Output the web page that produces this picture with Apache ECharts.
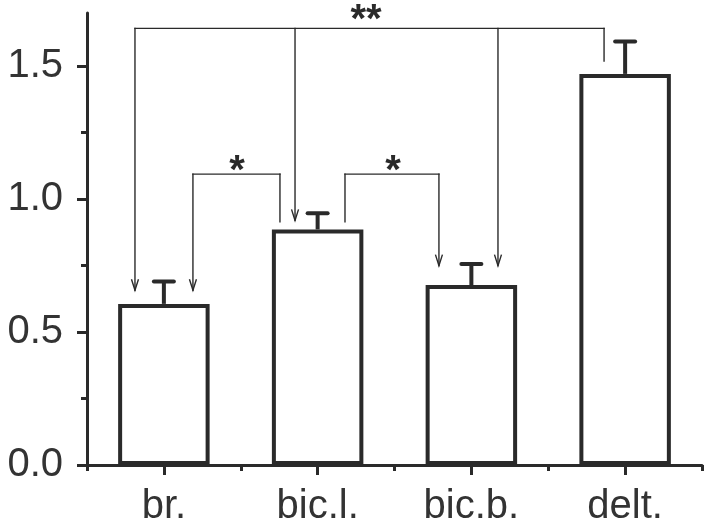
<!DOCTYPE html>
<html>
<head>
<meta charset="utf-8">
<script src="https://cdn.jsdelivr.net/npm/echarts@6/dist/echarts.min.js"></script>
<style>
  html, body { margin: 0; padding: 0; background: #fff; }
  #chart { width: 708px; height: 524px; }
</style>
</head>
<body>
<div id="chart"></div>
<script>
// ---- data ----
const categories = ['br.', 'bic.l.', 'bic.b.', 'delt.'];
const means = [0.606, 0.886, 0.677, 1.471];
const errors = [0.084, 0.061, 0.079, 0.122];
const yTickValues = [0, 0.5, 1.0, 1.5];
const yMinorTickValues = [0.25, 0.75, 1.25];
const xBoundaryTickValues = [-0.5, 0.5, 1.5, 2.5, 3.5];
// significance brackets: [x1, y1, x2, y2, arrowAtEnd], x in category units, y in data units
const bracketSegments = [
  [-0.188, 1.642, 2.863, 1.642, 0],
  [-0.188, 1.642, -0.188, 0.657, 1],
  [0.853, 1.642, 0.853, 0.920, 1],
  [2.173, 1.642, 2.173, 0.750, 1],
  [2.863, 1.642, 2.863, 1.519, 0],
  [0.189, 1.094, 0.755, 1.094, 0],
  [0.189, 1.094, 0.189, 0.657, 1],
  [0.755, 1.094, 0.755, 0.915, 0],
  [1.178, 1.094, 1.789, 1.094, 0],
  [1.178, 1.094, 1.178, 0.915, 0],
  [1.789, 1.094, 1.789, 0.750, 1]
];
const starLabels = ['**', '*', '*'];
const starPositions = [[1.315, 1.669], [0.476, 1.101], [1.490, 1.101]];

const INK = '#2a2a2a';
const FONT = 'Liberation Sans, Arial, sans-serif';

const chart = echarts.init(document.getElementById('chart'), null, { renderer: 'canvas' });

const option = {
  animation: false,
  backgroundColor: '#fff',
  grid: { left: 87, right: 6, top: 13, bottom: 59, containLabel: false, outerBoundsMode: 'none' },
  xAxis: [
    {
      type: 'category', data: categories, position: 'bottom',
      axisLine: { show: true, onZero: false, lineStyle: { color: INK, width: 3 } },
      axisTick: { show: true, alignWithLabel: true, length: 10, interval: 0, lineStyle: { color: INK, width: 3 } },
      axisLabel: { interval: 0, fontSize: 40, fontFamily: FONT, color: '#333', margin: 22 },
      splitLine: { show: false }
    },
    {
      type: 'value', min: -0.5, max: 3.5, position: 'bottom',
      axisLine: { show: false, onZero: false },
      axisTick: { show: true, length: 6, customValues: xBoundaryTickValues, lineStyle: { color: INK, width: 3 } },
      axisLabel: { show: false },
      splitLine: { show: false }
    }
  ],
  yAxis: [
    {
      type: 'value', min: 0, max: 1.7, interval: 0.5,
      axisLine: { show: true, onZero: false, lineStyle: { color: INK, width: 3 } },
      axisTick: { show: true, length: 10, customValues: yTickValues, lineStyle: { color: INK, width: 3 } },
      axisLabel: { customValues: yTickValues, fontSize: 40, fontFamily: FONT, color: '#333', margin: 24,
        formatter: v => Number(v).toFixed(1) },
      splitLine: { show: false }
    },
    {
      type: 'value', min: 0, max: 1.7, position: 'left',
      axisLine: { show: false, onZero: false },
      axisTick: { show: true, length: 6, customValues: yMinorTickValues, lineStyle: { color: INK, width: 3 } },
      axisLabel: { show: false },
      splitLine: { show: false }
    }
  ],
  series: [
    {
      type: 'bar', xAxisIndex: 0, yAxisIndex: 0, data: means, barWidth: '59.5%',
      itemStyle: { color: '#fff', borderColor: INK, borderWidth: 4 },
      z: 3
    },
    {
      type: 'custom', xAxisIndex: 0, yAxisIndex: 0, z: 4, clip: false,
      data: means.map((m, i) => [i, m, m + errors[i]]),
      renderItem: function (params, api) {
        const p0 = api.coord([api.value(0), api.value(1)]);
        const p1 = api.coord([api.value(0), api.value(2)]);
        return {
          type: 'group',
          children: [
            { type: 'line', shape: { x1: p0[0], y1: p0[1], x2: p1[0], y2: p1[1] },
              style: { stroke: INK, lineWidth: 4 } },
            { type: 'line', shape: { x1: p1[0] - 10, y1: p1[1], x2: p1[0] + 10, y2: p1[1] },
              style: { stroke: INK, lineWidth: 4, lineCap: 'round' } }
          ]
        };
      }
    },
    {
      type: 'custom', xAxisIndex: 1, yAxisIndex: 0, z: 5, clip: false,
      data: bracketSegments,
      renderItem: function (params, api) {
        const a = api.coord([api.value(0), api.value(1)]);
        const b = api.coord([api.value(2), api.value(3)]);
        const children = [
          { type: 'line', shape: { x1: a[0], y1: a[1], x2: b[0], y2: b[1] },
            style: { stroke: INK, lineWidth: 1.4, lineCap: 'square' } }
        ];
        if (api.value(4)) {
          children.push({ type: 'polyline',
            shape: { points: [[b[0] - 3.5, b[1] - 11], [b[0], b[1]], [b[0] + 3.5, b[1] - 11]] },
            style: { stroke: INK, lineWidth: 1.4, fill: null } });
        }
        return { type: 'group', children: children };
      }
    },
    {
      type: 'custom', xAxisIndex: 1, yAxisIndex: 0, z: 6, clip: false,
      data: starPositions,
      renderItem: function (params, api) {
        const p = api.coord([api.value(0), api.value(1)]);
        return {
          type: 'text', x: p[0], y: p[1],
          style: { text: starLabels[params.dataIndex], fill: INK, fontSize: 40, fontWeight: 'bold',
            fontFamily: FONT, align: 'center', verticalAlign: 'middle' }
        };
      }
    }
  ]
};
chart.setOption(option);
</script>
</body>
</html>
